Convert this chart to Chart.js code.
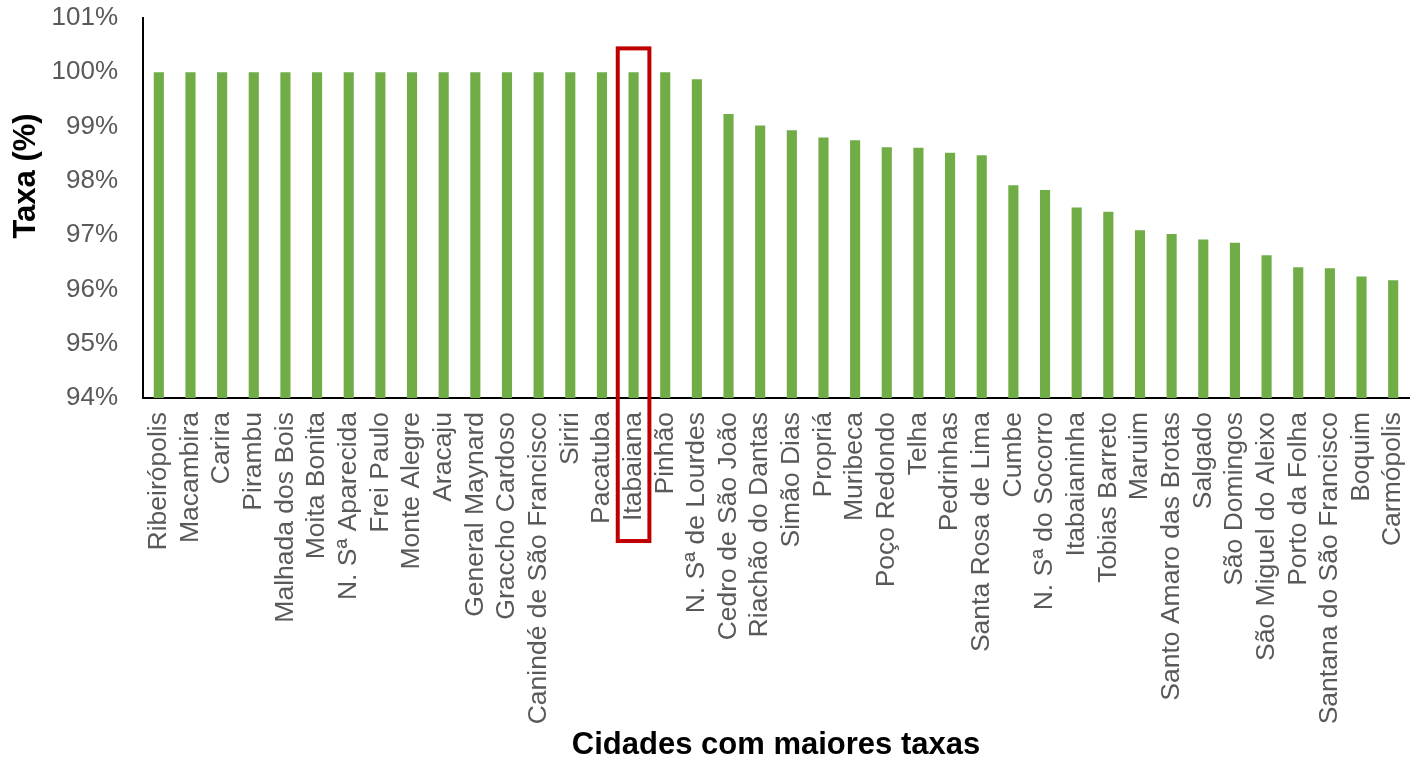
<!DOCTYPE html>
<html>
<head>
<meta charset="utf-8">
<script src="https://cdn.jsdelivr.net/npm/chart.js@4.4.1/dist/chart.umd.min.js"></script>
<style>
  html, body { margin: 0; padding: 0; background: #fff; }
  #wrap { width: 1418px; height: 762px; }
</style>
</head>
<body>
<div id="wrap"><canvas id="taxaChart"></canvas></div>
<script>
const cities = [
    "Ribeirópolis", "Macambira", "Carira", "Pirambu", "Malhada dos Bois", "Moita Bonita",
    "N. Sª Aparecida", "Frei Paulo", "Monte Alegre", "Aracaju", "General Maynard", "Graccho Cardoso",
    "Canindé de São Francisco", "Siriri", "Pacatuba", "Itabaiana", "Pinhão", "N. Sª de Lourdes",
    "Cedro de São João", "Riachão do Dantas", "Simão Dias", "Propriá", "Muribeca", "Poço Redondo",
    "Telha", "Pedrinhas", "Santa Rosa de Lima", "Cumbe", "N. Sª do Socorro", "Itabaianinha",
    "Tobias Barreto", "Maruim", "Santo Amaro das Brotas", "Salgado", "São Domingos",
    "São Miguel do Aleixo", "Porto da Folha", "Santana do São Francisco", "Boquim", "Carmópolis"
];
const taxas = [
    100, 100, 100, 100, 100, 100, 100, 100, 100, 100, 100, 100, 100, 100, 100, 100, 100,
    99.87, 99.23, 99.02, 98.93, 98.80, 98.75, 98.62, 98.61, 98.52, 98.47, 97.92, 97.83,
    97.51, 97.43, 97.09, 97.02, 96.92, 96.86, 96.63, 96.41, 96.39, 96.24, 96.17
];
const yTicks = [94, 95, 96, 97, 98, 99, 100, 101];
const highlighted = "Itabaiana";
const yTitle = "Taxa (%)";

const labelFont = { family: 'Liberation Sans', size: 26.5 };
const titleFont = { family: 'Liberation Sans', size: 31, weight: 'bold' };
const labelPad = 14;

// red box round the highlighted city (bar + label), and the y title a bit above centre
const extras = {
    id: 'extras',
    afterDraw(chart) {
        const x = chart.scales.x, y = chart.scales.y, ctx = chart.ctx;
        const i = cities.indexOf(highlighted);
        const cx = x.getPixelForValue(i);
        const half = x.width / cities.length / 2;
        ctx.save();
        ctx.font = labelFont.size + 'px ' + labelFont.family;
        const textLen = ctx.measureText(highlighted).width;
        const top = y.getPixelForValue(100.44);
        const bottom = chart.chartArea.bottom + labelPad + textLen + 20;
        ctx.strokeStyle = '#C00000';
        ctx.lineWidth = 4;
        ctx.strokeRect(cx - half, top, half * 2, bottom - top);

        ctx.translate(26, (chart.chartArea.top + chart.chartArea.bottom) / 2 - 32);
        ctx.rotate(-Math.PI / 2);
        ctx.font = 'bold ' + titleFont.size + 'px ' + titleFont.family;
        ctx.fillStyle = '#000';
        ctx.textAlign = 'center';
        ctx.textBaseline = 'middle';
        ctx.fillText(yTitle, 0, 0);
        ctx.restore();
    }
};

new Chart(document.getElementById('taxaChart'), {
    type: 'bar',
    data: {
        labels: cities,
        datasets: [{ data: taxas, backgroundColor: '#70AD47', barPercentage: 0.32, categoryPercentage: 1 }]
    },
    options: {
        responsive: true, maintainAspectRatio: false, animation: false,
        layout: { padding: { left: 3, right: 9, top: 18, bottom: 0 } },
        plugins: { legend: { display: false }, tooltip: { enabled: false } },
        scales: {
            x: {
                grid: { display: false, drawTicks: false },
                border: { display: true, color: '#000', width: 2 },
                ticks: { autoSkip: false, maxRotation: 90, minRotation: 90, padding: labelPad, color: '#595959', font: labelFont },
                title: { display: true, text: 'Cidades com maiores taxas', color: '#000', font: titleFont, padding: { top: 0, bottom: -2 } },
                afterFit: s => { s.height = 364; s.paddingLeft = 0; s.paddingRight = 0; }
            },
            y: {
                min: yTicks[0], max: yTicks[yTicks.length - 1],
                afterBuildTicks: s => { s.ticks = yTicks.map(v => ({ value: v })); },
                grid: { display: false, drawTicks: false },
                border: { display: true, color: '#000', width: 2 },
                ticks: { padding: 25, color: '#595959', font: { family: 'Liberation Sans', size: 26 }, callback: v => v + '%' },
                afterFit: s => { s.width = 140; s.paddingTop = 0; s.paddingBottom = 0; }
            }
        }
    },
    plugins: [extras]
});
</script>
</body>
</html>
